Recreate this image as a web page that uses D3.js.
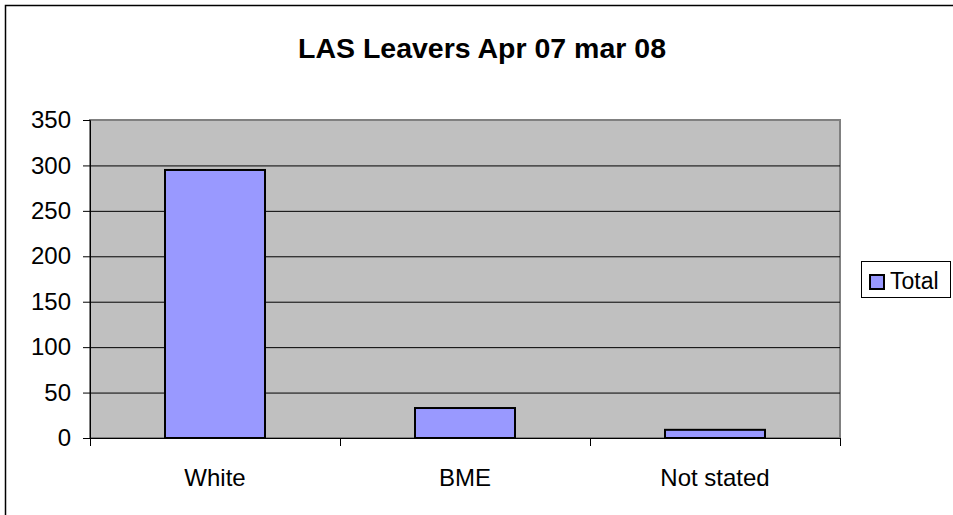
<!DOCTYPE html>
<html><head><meta charset="utf-8">
<script src="https://cdn.jsdelivr.net/npm/d3@7"></script>
<style>body{margin:0;background:#fff}svg{display:block}</style>
</head><body>
<script>
const categories = ["White", "BME", "Not stated"];
const totals = [295, 33, 9];
const yTicks = [0, 50, 100, 150, 200, 250, 300, 350];
const seriesName = "Total";
const title = "LAS Leavers Apr 07 mar 08";

const W = 953, H = 515;
const svg = d3.select("body").append("svg").attr("width", W).attr("height", H);
const font = "'Liberation Sans', Arial, sans-serif";

// outer frame
svg.append("rect").attr("x", 5.5).attr("y", 5.5).attr("width", 960).attr("height", 520)
  .attr("fill", "#fff").attr("stroke", "#000").attr("stroke-width", 1.5);

const L = 90, R = 840, T = 120, B = 438;
const x = d3.scaleBand().domain(categories).range([L, R]).paddingInner(0.6).paddingOuter(0.3);
const xOuter = d3.scaleBand().domain(categories).range([L, R]);
const y = d3.scaleLinear().domain([0, 350]).range([B, T]);

// plot area
svg.append("rect").attr("x", L).attr("y", T).attr("width", R - L).attr("height", B - T)
  .attr("fill", "#C0C0C0").attr("stroke", "#808080").attr("stroke-width", 2);

// gridlines
svg.append("g").selectAll("line").data(yTicks.filter(d => d > 0 && d < 350)).join("line")
  .attr("x1", L).attr("x2", R).attr("y1", d => y(d) + 0.5).attr("y2", d => y(d) + 0.5)
  .attr("stroke", "#000").attr("stroke-width", 1);

// bars
svg.append("g").selectAll("rect").data(totals).join("rect")
  .attr("x", (d, i) => x(categories[i]))
  .attr("y", d => y(d))
  .attr("width", x.bandwidth())
  .attr("height", d => B - y(d))
  .attr("fill", "#9999FF").attr("stroke", "#000").attr("stroke-width", 2);

// y axis
const yAxis = d3.axisLeft(y).tickValues(yTicks).tickSize(7).tickPadding(12);
const gy = svg.append("g").attr("transform", `translate(${L},0)`).call(yAxis);
gy.select(".domain").attr("stroke", "#000");
gy.selectAll("text").attr("font-family", font).attr("font-size", 24).attr("fill", "#000");
gy.selectAll(".tick line").attr("stroke", "#000");

// x axis
const gx = svg.append("g").attr("transform", `translate(0,${B})`);
gx.append("line").attr("x1", L).attr("x2", R).attr("y1", 0.5).attr("y2", 0.5).attr("stroke", "#000");
const bounds = categories.map(c => xOuter(c)).concat([R]);
gx.selectAll("line.t").data(bounds).join("line").attr("class", "t")
  .attr("x1", d => d + 0.5).attr("x2", d => d + 0.5).attr("y1", 0).attr("y2", 8).attr("stroke", "#000");
gx.selectAll("text").data(categories).join("text")
  .attr("x", d => xOuter(d) + xOuter.bandwidth() / 2).attr("y", 48)
  .attr("text-anchor", "middle").attr("font-family", font).attr("font-size", 24).text(d => d);

// title
svg.append("text").attr("x", 482).attr("y", 58).attr("text-anchor", "middle")
  .attr("font-family", font).attr("font-weight", "bold").attr("font-size", 28.5).text(title);

// legend
const lg = svg.append("g");
lg.append("rect").attr("x", 861.5).attr("y", 261.5).attr("width", 89).attr("height", 36)
  .attr("fill", "#fff").attr("stroke", "#000").attr("stroke-width", 1);
lg.append("rect").attr("x", 870).attr("y", 275).attr("width", 14).attr("height", 14)
  .attr("fill", "#9999FF").attr("stroke", "#000").attr("stroke-width", 2);
lg.append("text").attr("x", 890).attr("y", 289).attr("font-family", font).attr("font-size", 23).text(seriesName);
</script>
</body></html>
